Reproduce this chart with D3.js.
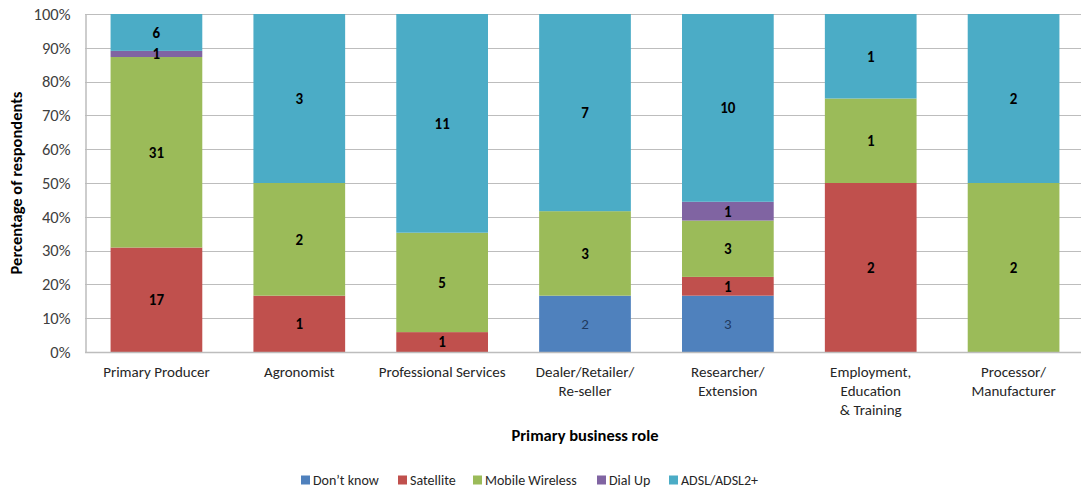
<!DOCTYPE html>
<html>
<head>
<meta charset="utf-8">
<script src="https://cdn.jsdelivr.net/npm/d3@7"></script>
<style>
  html, body { margin: 0; padding: 0; background: #fff; }
  svg { display: block; font-family: Carlito, Calibri, Lato, "Open Sans", sans-serif; }
</style>
</head>
<body>
<svg id="chart" width="1081" height="490"></svg>
<script>
// Respondent counts by primary business role and internet connection type
const categories = [
  ["Primary Producer"],
  ["Agronomist"],
  ["Professional Services"],
  ["Dealer/Retailer/", "Re-seller"],
  ["Researcher/", "Extension"],
  ["Employment,", "Education", "& Training"],
  ["Processor/", "Manufacturer"]
];
const seriesNames = ["Don\u2019t know", "Satellite", "Mobile Wireless", "Dial Up", "ADSL/ADSL2+"];
const dontKnow       = [0, 0, 0, 2, 3, 0, 0];
const satellite      = [17, 1, 1, 0, 1, 2, 0];
const mobileWireless = [31, 2, 5, 3, 3, 1, 2];
const dialUp         = [1, 0, 0, 0, 1, 0, 0];
const adsl           = [6, 3, 11, 7, 10, 1, 2];
const yTicks = [0, 0.1, 0.2, 0.3, 0.4, 0.5, 0.6, 0.7, 0.8, 0.9, 1];

const colors = ["#4F81BD", "#C0504D", "#9BBB59", "#8064A2", "#4BACC6"];
const labelColors = ["#1F3A60", "#000", "#000", "#000", "#000"];
const labelWeights = ["normal", "bold", "bold", "bold", "bold"];

const seriesValues = [dontKnow, satellite, mobileWireless, dialUp, adsl];
const keys = categories.map(c => c.join(" "));
const rows = keys.map((k, i) => {
  const r = { key: k, lines: categories[i] };
  seriesNames.forEach((s, j) => r[s] = seriesValues[j][i]);
  r.total = d3.sum(seriesValues, v => v[i]);
  return r;
});

const svg = d3.select("#chart");
const margin = { left: 85, top: 14, right: -4, bottom: 138 };
const W = 1081, H = 490;
const x = d3.scaleBand().domain(keys)
  .range([margin.left, W - margin.right])
  .paddingInner(0.358).paddingOuter(0.179);
const y = d3.scaleLinear().domain([0, 1]).range([H - margin.bottom, margin.top]);

// gridlines
svg.append("g").selectAll("line").data(yTicks).join("line")
  .attr("x1", margin.left).attr("x2", W)
  .attr("y1", d => Math.round(y(d)) + 0.5).attr("y2", d => Math.round(y(d)) + 0.5)
  .attr("stroke", "#BDBDBD").attr("stroke-width", 1);

// stacked bars as shares of each role's total
const stack = d3.stack().keys(seriesNames)
  .value((d, k) => d[k] / d.total);
const stacked = stack(rows);

const layers = svg.append("g").selectAll("g").data(stacked).join("g")
  .attr("fill", (d, i) => colors[i]);
layers.selectAll("rect").data(d => d.map(p => ({ p, s: d.key }))).join("rect")
  .attr("x", d => x(d.p.data.key))
  .attr("width", x.bandwidth())
  .attr("y", d => y(d.p[1]))
  .attr("height", d => y(d.p[0]) - y(d.p[1]));

// value labels
stacked.forEach((layer, i) => {
  svg.append("g").selectAll("text").data(layer.filter(p => p.data[layer.key] > 0)).join("text")
    .attr("x", p => x(p.data.key) + x.bandwidth() / 2)
    .attr("y", p => (y(p[0]) + y(p[1])) / 2)
    .attr("dy", "0.36em")
    .attr("text-anchor", "middle")
    .attr("font-size", 15)
    .attr("font-weight", labelWeights[i])
    .attr("fill", labelColors[i])
    .text(p => p.data[layer.key]);
});

// y axis
const yAxis = d3.axisLeft(y).tickValues(yTicks).tickFormat(d3.format(".0%")).tickSize(0).tickPadding(15);
const gy = svg.append("g").attr("transform", `translate(${margin.left + 0.5},0)`).call(yAxis);
gy.select(".domain").attr("stroke", "#BDBDBD").attr("stroke-width", 1.5);
gy.selectAll("text").attr("font-size", 16.5).attr("fill", "#404040")
  .attr("font-family", "Carlito, Calibri, Lato, 'Open Sans', sans-serif");

// x axis baseline
svg.append("line")
  .attr("x1", margin.left).attr("x2", W)
  .attr("y1", y(0) + 0.5).attr("y2", y(0) + 0.5)
  .attr("stroke", "#BDBDBD").attr("stroke-width", 1.5);

// category labels
const catG = svg.append("g").selectAll("text").data(rows).join("text")
  .attr("x", d => x(d.key) + x.bandwidth() / 2)
  .attr("y", y(0) + 25)
  .attr("text-anchor", "middle")
  .attr("font-size", 15)
  .attr("fill", "#262626");
catG.selectAll("tspan").data(d => d.lines.map(l => ({ l, x: x(d.key) + x.bandwidth() / 2 }))).join("tspan")
  .attr("x", d => d.x)
  .attr("dy", (d, i) => i === 0 ? 0 : 19)
  .text(d => d.l);

// axis titles
svg.append("text")
  .attr("x", 585).attr("y", 441)
  .attr("text-anchor", "middle").attr("font-size", 16.5).attr("font-weight", "bold").attr("fill", "#000")
  .text("Primary business role");
svg.append("text")
  .attr("transform", `translate(22,${(y(0) + y(1)) / 2}) rotate(-90)`)
  .attr("text-anchor", "middle").attr("font-size", 16.5).attr("font-weight", "bold").attr("fill", "#000")
  .text("Percentage of respondents");

// legend
const legendX = [301, 398, 473, 597, 669];
const lg = svg.append("g").selectAll("g").data(seriesNames).join("g")
  .attr("transform", (d, i) => `translate(${legendX[i]},480)`);
lg.append("rect").attr("x", 0).attr("y", -4.5).attr("width", 9).attr("height", 9)
  .attr("fill", (d, i) => colors[i]);
lg.append("text").attr("x", 12).attr("y", 0).attr("dy", "0.36em")
  .attr("font-size", 14).attr("fill", "#262626").text(d => d);
</script>
</body>
</html>
